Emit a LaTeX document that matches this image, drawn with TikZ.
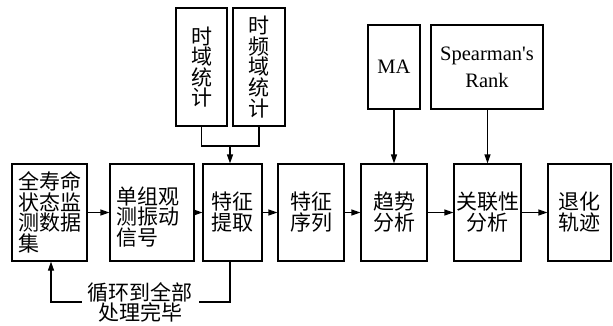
\documentclass[tikz,border=0pt]{standalone}
\usepackage{fontspec}
\setmainfont{Liberation Serif}[Ligatures=TeXOff]
\newfontfamily\cjk{Noto Sans CJK SC}
\usetikzlibrary{arrows.meta}
\tikzset{
  box/.style={draw, line width=1.2pt, inner sep=0pt},
  txt/.style={inner sep=0pt, font=\cjk\fontsize{21}{20.6}\selectfont},
  ltxt/.style={inner sep=0pt, font=\fontsize{20.5}{27}\selectfont, align=center},
  conn/.style={line width=1.2pt},
  arr/.style={conn, -{Triangle[length=9pt,width=6pt]}}
}
\begin{document}
\begin{tikzpicture}[x=1pt,y=-1pt]
\useasboundingbox (0,0) rectangle (613,325);
% main row boxes
\node[box, minimum width=75pt, minimum height=97pt] (b1) at (49.5,212.5) {};
\node[box, minimum width=84pt, minimum height=97pt] (b2) at (152,212.5) {};
\node[box, minimum width=59pt, minimum height=97pt] (b3) at (232.5,212.5) {};
\node[box, minimum width=66pt, minimum height=97pt] (b4) at (311,212.5) {};
\node[box, minimum width=66pt, minimum height=97pt] (b5) at (394,212.5) {};
\node[box, minimum width=67pt, minimum height=97pt] (b6) at (487.5,212.5) {};
\node[box, minimum width=63pt, minimum height=97pt] (b7) at (579.5,212.5) {};
% top boxes
\node[box, minimum width=51pt, minimum height=118pt] (t1) at (201.5,67) {};
\node[box, minimum width=52pt, minimum height=118pt] (t2) at (259,67) {};
\node[box, minimum width=52pt, minimum height=84pt] (ma) at (394,67) {};
\node[box, minimum width=112pt, minimum height=84pt] (sp) at (487,67) {};
% texts
\node[txt, align=left] (l1) at (49.5,212.5) {全寿命\\状态监\\测数据\\集};
\node[txt, align=left] (l2) at (148,217) {单组观\\测振动\\信号};
\node[txt, align=center] (l3) at (232.5,212) {特征\\提取};
\node[txt, align=center] (l4) at (311,212) {特征\\序列};
\node[txt, align=center] (l5) at (394,212) {趋势\\分析};
\node[txt, align=center] (l6) at (487.5,212) {关联性\\分析};
\node[txt, align=center] (l7) at (579.5,212) {退化\\轨迹};
\node[txt, align=center] (lt1) at (201.5,67) {时\\域\\统\\计};
\node[txt, align=center] (lt2) at (259,67) {时\\频\\域\\统\\计};
\node[ltxt] (lma) at (394,67) {MA};
\node[ltxt] (lsp) at (487,67) {Spearman's\\Rank};
% horizontal arrows
\draw[arr] (b1.east) -- (b2.west);
\draw[arr] (b2.east) -- (b3.west);
\draw[arr] (b3.east) -- (b4.west);
\draw[arr] (b4.east) -- (b5.west);
\draw[arr] (b5.east) -- (b6.west);
\draw[arr] (b6.east) -- (b7.west);
% top joins
\coordinate (j) at (230,146);
\draw[conn] (t1.south) |- (j) -| (t2.south);
\draw[arr] (j) -- (j |- b3.north);
\draw[arr] (ma.south) -- (b5.north);
\draw[arr] (sp.south -| b6.north) -- (b6.north);
% feedback loop
\coordinate (fa) at (230,261);
\coordinate (fb) at (230,302);
\coordinate (fc) at (51,302);
\draw[arr] (fa) -- (fb) -- (fc) -- (fc |- b1.south);
\node[txt, fill=white, align=center, inner xsep=6pt, inner ysep=1pt] (fl) at (140,302.5) {循环到全部\\处理完毕};
\end{tikzpicture}
\end{document}
